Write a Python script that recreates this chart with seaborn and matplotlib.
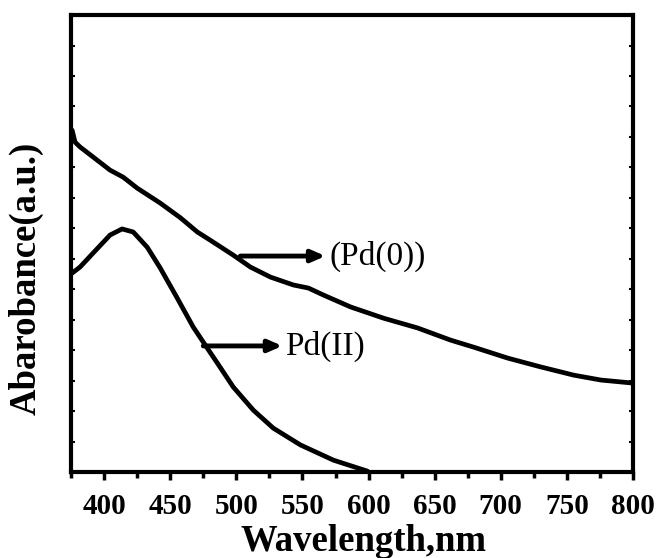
import numpy as np
import pandas as pd
import matplotlib
matplotlib.use("Agg")
import matplotlib.pyplot as plt
import seaborn as sns
from matplotlib.ticker import MultipleLocator

# Pd(0) spectrum
pd0_wl = [375.8, 378, 381.8, 391.7, 404.5, 414.4, 425, 442.4, 457.6, 470.5, 480.3,
          497.7, 510.6, 525.8, 543.2, 554.5, 565.9, 586.4, 611.4, 637.1, 662.1,
          679.5, 705.3, 730.3, 755.3, 775.8, 800]
pd0_abs = [11.22, 10.83, 10.67, 10.34, 9.91, 9.68, 9.32, 8.83, 8.35, 7.88, 7.61,
           7.12, 6.73, 6.40, 6.14, 6.04, 5.81, 5.42, 5.05, 4.73, 4.33,
           4.10, 3.74, 3.45, 3.18, 3.02, 2.92]

# Pd(II) spectrum
pd2_wl = [375.8, 381.8, 391.7, 404.5, 413.6, 422, 432.6, 442.4, 455.3, 467.4, 478,
          485.6, 497.7, 512.9, 528, 548.5, 573.5, 599.2]
pd2_abs = [6.53, 6.73, 7.19, 7.78, 7.98, 7.88, 7.38, 6.70, 5.71, 4.76, 4.07,
           3.58, 2.79, 2.03, 1.44, 0.89, 0.39, 0.03]

df = pd.concat([
    pd.DataFrame({"wl": pd0_wl, "abs": pd0_abs, "sample": "Pd(0)"}),
    pd.DataFrame({"wl": pd2_wl, "abs": pd2_abs, "sample": "Pd(II)"}),
])

sns.set_style("ticks")
plt.rcParams['font.family'] = ['Liberation Serif', 'DejaVu Serif']
plt.rcParams['axes.edgecolor'] = 'black'
plt.rcParams['xtick.color'] = 'black'
plt.rcParams['ytick.color'] = 'black'
plt.rcParams['text.color'] = 'black'
plt.rcParams['axes.labelcolor'] = 'black'

fig = plt.figure(figsize=(6.58, 5.58), dpi=100)
ax = fig.add_axes([0.108, 0.154, 0.854, 0.819])

sns.lineplot(data=df, x="wl", y="abs", units="sample", estimator=None,
             color="black", linewidth=3.4, ax=ax, sort=False,
             solid_joinstyle="round", solid_capstyle="round")

ax.set_xlim(375, 800)
ax.set_ylim(0, 15)
ax.xaxis.set_major_locator(MultipleLocator(50))
ax.xaxis.set_minor_locator(MultipleLocator(25))
ax.yaxis.set_major_locator(MultipleLocator(1))
ax.set_yticklabels([])

for s in ax.spines.values():
    s.set_linewidth(3)
    s.set_visible(True)
    s.set_color("black")

ax.tick_params(axis="x", which="major", direction="out", length=6, width=2.5,
               labelsize=21, pad=9, top=False)
ax.tick_params(axis="x", which="minor", direction="out", length=4, width=2.5, top=False)
ax.tick_params(axis="y", which="major", direction="in", length=3, width=1.5,
               left=True, right=True)
for lab in ax.get_xticklabels():
    lab.set_fontweight("bold")

ax.set_xlabel("Wavelength,nm", fontsize=26.5, fontweight="bold", labelpad=3)
ax.xaxis.label.set_x(0.52)
ax.set_ylabel("Abarobance(a.u.)", fontsize=26.5, fontweight="bold")
ax.yaxis.set_label_coords(-0.049, 0.424)

arrow = dict(arrowstyle="-|>,head_length=0.8,head_width=0.35", color="black", lw=3.5,
             shrinkA=0, shrinkB=0)
ax.annotate("", xy=(567.4, 7.09), xytext=(503, 7.09), arrowprops=arrow)
ax.text(570.5, 7.09, "(Pd(0))", fontsize=24, va="center", ha="left")
ax.annotate("", xy=(534.8, 4.14), xytext=(475, 4.14), arrowprops=arrow)
ax.text(537, 4.14, "Pd(II)", fontsize=24, va="center", ha="left")

fig.savefig("out.png", dpi=100)
